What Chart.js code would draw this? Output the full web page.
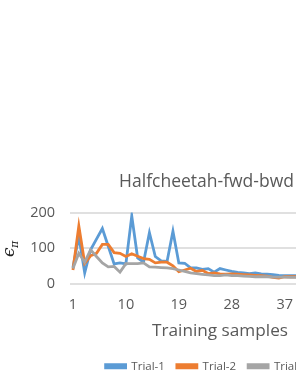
<!DOCTYPE html>
<html>
<head>
<meta charset="utf-8">
<script src="https://cdn.jsdelivr.net/npm/chart.js@4/dist/chart.umd.min.js"></script>
<style>
  html, body { margin: 0; padding: 0; background: #fff; overflow: hidden; width: 296px; height: 383px; }
  #wrap { position: absolute; left: 0; top: 160px; }
</style>
</head>
<body>
<div id="wrap"><canvas id="chart" width="413" height="223"></canvas></div>
<script>
// Training samples (x categories)
const samples = [1, 2, 3, 4, 5, 6, 7, 8, 9, 10, 11, 12, 13, 14, 15, 16, 17, 18, 19, 20,
  21, 22, 23, 24, 25, 26, 27, 28, 29, 30, 31, 32, 33, 34, 35, 36, 37, 38, 39, 40,
  41, 42, 43, 44, 45, 46, 47, 48, 49, 50, 51];

// epsilon_pi per trial
const trial1 = [45, 133, 30, 95, 125, 155, 105, 55, 58, 55, 190, 72, 60, 143, 76, 64, 62, 147, 58, 57,
  44, 44, 40, 42, 32, 42, 38, 34, 31, 30, 28, 30, 27, 26, 25, 23, 22, 22, 22, 21];
const trial2 = [38, 162, 57, 78, 85, 110, 110, 87, 85, 76, 84, 77, 70, 68, 58, 60, 60, 50, 33, 38,
  43, 34, 37, 28, 30, 27, 26, 27, 26, 25, 24, 23, 22, 21, 17, 15, 19, 19, 19, 19];
const trial3 = [42, 85, 60, 95, 76, 58, 47, 48, 32, 56, 56, 56, 58, 47, 46, 45, 44, 42, 38, 34,
  30, 28, 26, 24, 22, 22, 24, 22, 22, 21, 20, 19, 19, 19, 18, 18, 18, 17, 17, 17];

const yTicks = [0, 100, 200];

const TEXT = '#595959';
const FONT = "'Open Sans', 'Liberation Sans', sans-serif";

// y axis title: epsilon with subscript pi, rotated
const yTitlePlugin = {
  id: 'yTitle',
  afterDraw(chart) {
    const ctx = chart.ctx;
    const mid = (chart.chartArea.top + chart.chartArea.bottom) / 2;
    ctx.save();
    ctx.translate(14, mid);
    ctx.rotate(-Math.PI / 2);
    ctx.fillStyle = '#222';
    ctx.textBaseline = 'alphabetic';
    ctx.textAlign = 'left';
    ctx.font = "italic 17px 'DejaVu Serif', serif";
    ctx.fillText('\u03F5', -9, 0);
    ctx.font = "italic 11px 'DejaVu Serif', serif";
    ctx.fillText('\u03C0', 0, 4);
    ctx.restore();
  }
};

function makeSet(label, data, color, order) {
  return {
    label: label,
    data: data,
    borderColor: color,
    backgroundColor: color,
    borderWidth: 2.8,
    pointRadius: 0,
    pointHoverRadius: 0,
    tension: 0,
    fill: false,
    order: order
  };
}

new Chart(document.getElementById('chart'), {
  type: 'line',
  data: {
    labels: samples,
    datasets: [
      makeSet('Trial-1', trial1, '#5b9bd5', 3),
      makeSet('Trial-2', trial2, '#ed7d31', 2),
      makeSet('Trial-3', trial3, '#a5a5a5', 1)
    ]
  },
  plugins: [yTitlePlugin],
  options: {
    responsive: false,
    animation: false,
    layout: { padding: { left: 0, right: 0, top: 0, bottom: 1 } },
    plugins: {
      title: {
        display: true,
        text: 'Halfcheetah-fwd-bwd',
        color: TEXT,
        font: { family: FONT, size: 17.5, weight: 'normal' },
        padding: { top: 12, bottom: 19.5 }
      },
      legend: {
        position: 'bottom',
        labels: {
          color: TEXT,
          font: { family: FONT, size: 11.5 },
          boxWidth: 20,
          boxHeight: 3,
          padding: 12,
          sort: (a, b) => a.datasetIndex - b.datasetIndex
        }
      },
      tooltip: { enabled: false }
    },
    scales: {
      x: {
        type: 'category',
        offset: true,
        grid: { display: false, drawTicks: false },
        border: { display: false },
        afterFit: function(scale) {
          scale.height = 65;
        },
        ticks: {
          autoSkip: false,
          maxRotation: 0,
          padding: 13,
          color: TEXT,
          font: { family: FONT, size: 14.5 },
          callback: function(value, index) {
            return index % 9 === 0 ? String(samples[index]) : '';
          }
        },
        title: {
          display: true,
          text: 'Training samples',
          color: TEXT,
          font: { family: FONT, size: 17.2 },
          padding: { top: 4, bottom: 7 }
        }
      },
      y: {
        min: 0,
        max: 200,
        afterBuildTicks: function(scale) {
          scale.ticks = yTicks.map(v => ({ value: v }));
        },
        afterFit: function(scale) {
          scale.width = 70;
        },
        grid: { color: '#e0e0e0', lineWidth: 2, drawTicks: false },
        border: { display: false },
        ticks: {
          padding: 15,
          color: TEXT,
          font: { family: FONT, size: 14.5 }
        }
      },
      // empty right strip, keeps the plot narrower than the canvas
      yRight: {
        type: 'linear',
        position: 'right',
        min: 0,
        max: 200,
        grid: { display: false, drawTicks: false },
        border: { display: false },
        ticks: { display: false },
        afterFit: function(scale) {
          scale.width = 43;
        }
      }
    }
  }
});
</script>
</body>
</html>
